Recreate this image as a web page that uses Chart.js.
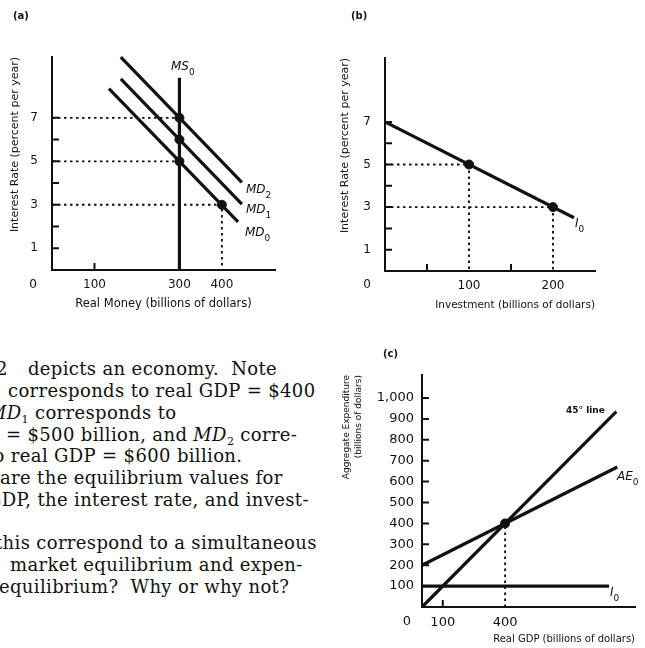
<!DOCTYPE html>
<html>
<head>
<meta charset="utf-8">
<script src="https://cdn.jsdelivr.net/npm/chart.js@4.4.0/dist/chart.umd.min.js"></script>
<style>
  body { margin: 0; width: 645px; height: 648px; position: relative; overflow: hidden; background: #fff; color: #111; font-family: "DejaVu Sans", sans-serif; }
  canvas { position: absolute; }
  .tag { position: absolute; font-size: 10px; font-weight: bold; }
  .lbl { position: absolute; font-style: italic; font-size: 12px; white-space: nowrap; line-height: 1; }
  .lbl sub { font-style: normal; font-size: 9px; vertical-align: -5px; }
  .txt { position: absolute; left: 0; top: 350px; width: 340px; height: 260px; overflow: hidden; font-family: "DejaVu Serif", serif; font-size: 18px; letter-spacing: 0.35px; }
  .txt div { position: absolute; white-space: nowrap; line-height: 1; }
  .txt sub { font-size: 11px; vertical-align: -4px; }
</style>
</head>
<body>
<canvas id="chartA" width="320" height="320" style="left:0;top:0"></canvas>
<canvas id="chartB" width="325" height="320" style="left:320px;top:0"></canvas>
<canvas id="chartC" width="305" height="328" style="left:340px;top:320px"></canvas>

<div class="tag" style="left:13px;top:10px">(a)</div>
<div class="tag" style="left:351px;top:10px">(b)</div>
<div class="tag" style="left:383px;top:348px">(c)</div>

<div class="lbl" style="left:171px;top:60px">MS<sub>0</sub></div>
<div class="lbl" style="left:246px;top:183px">MD<sub>2</sub></div>
<div class="lbl" style="left:246px;top:203px">MD<sub>1</sub></div>
<div class="lbl" style="left:245px;top:226px">MD<sub>0</sub></div>
<div class="lbl" style="left:575px;top:217px">I<sub>0</sub></div>
<div class="lbl" style="left:566px;top:406px;font-style:normal;font-size:9px;font-weight:bold">45° line</div>
<div class="lbl" style="left:617px;top:470px">AE<sub>0</sub></div>
<div class="lbl" style="left:610px;top:586px">I<sub>0</sub></div>

<div class="txt">
  <div style="left:-4px;top:10px">2</div>
  <div style="left:28px;top:10px">depicts an economy.&nbsp; Note</div>
  <div style="left:8px;top:32px">corresponds to real GDP = $400</div>
  <div style="left:-12px;top:54px"><i>MD</i><sub>1</sub> corresponds to</div>
  <div style="left:6px;top:76px">= $500 billion, and <i>MD</i><sub>2</sub> corre-</div>
  <div style="left:-14px;top:97px">to real GDP = $600 billion.</div>
  <div style="left:0px;top:119px">are the equilibrium values for</div>
  <div style="left:-13px;top:141px">GDP, the interest rate, and invest-</div>
  <div style="left:-5px;top:184px">this correspond to a simultaneous</div>
  <div style="left:10px;top:206px">market equilibrium and expen-</div>
  <div style="left:-1px;top:228px">equilibrium?&nbsp; Why or why not?</div>
</div>

<script>
// (a) thi truong tien te
const aXLabels = [100, 300, 400];
const aYLabels = [1, 3, 5, 7];
const aTickY = [1, 2, 3, 4, 5, 6, 7];
const aTickX = [100];
const msX = [300, 300];
const msY = [0, 8.85];
const md0X = [134, 438];
const md0Y = [8.35, 2.21];
const md1X = [162, 447];
const md1Y = [8.79, 3.03];
const md2X = [162, 447];
const md2Y = [9.79, 4.03];
const aEqX = [300, 300, 300, 400];
const aEqY = [7, 6, 5, 3];
const aGuides = [[[0, 7], [300, 7]], [[0, 5], [300, 5]], [[0, 3], [400, 3], [400, 0]]];

// (b) dau tu
const bXLabels = [100, 200];
const bYLabels = [1, 3, 5, 7];
const bTickY = [1, 2, 3, 4, 5, 6, 7];
const bTickX = [50, 150];
const invX = [0, 225];
const invY = [7, 2.5];
const bEqX = [100, 200];
const bEqY = [5, 3];
const bGuides = [[[0, 5], [100, 5], [100, 0]], [[0, 3], [200, 3], [200, 0]]];

// (c) tong chi tieu
const cXLabels = [100, 400];
const cYValues = [100, 200, 300, 400, 500, 600, 700, 800, 900, 1000];
const cYLabels = ['100', '200', '300', '400', '500', '600', '700', '800', '900', '1,000'];
const cTickX = [100];
const line45X = [0, 935];
const line45Y = [0, 935];
const aeX = [0, 940];
const aeY = [200, 670];
const invCX = [0, 900];
const invCY = [100, 100];
const cEqX = [400];
const cEqY = [400];
const cGuides = [[[400, 0], [400, 400]]];

const INK = '#111';
const pts = (xs, ys) => xs.map((x, i) => ({ x: x, y: ys[i] }));

function solid(xs, ys) {
    return { data: pts(xs, ys), showLine: true, borderColor: INK, borderWidth: 3.2, pointRadius: 0, clip: false };
}
function dots(xs, ys) {
    return { data: pts(xs, ys), showLine: false, backgroundColor: INK, borderColor: INK, pointRadius: 4.5 };
}
function dotted(seg) {
    return { data: seg.map(p => ({ x: p[0], y: p[1] })), showLine: true, borderColor: INK, borderWidth: 1.9, borderDash: [2.5, 3.5], pointRadius: 0 };
}

// ve vach chia huong vao trong + nhan "0" o goc
const innerTicks = {
    id: 'innerTicks',
    afterDatasetsDraw(chart, args, opts) {
        const { ctx, scales: { x, y } } = chart;
        ctx.save();
        ctx.strokeStyle = INK;
        ctx.lineWidth = 2;
        ctx.beginPath();
        (opts.y || []).forEach(v => {
            const py = y.getPixelForValue(v);
            ctx.moveTo(x.left, py);
            ctx.lineTo(x.left + opts.len, py);
        });
        (opts.x || []).forEach(v => {
            const px = x.getPixelForValue(v);
            ctx.moveTo(px, y.bottom);
            ctx.lineTo(px, y.bottom - opts.len);
        });
        ctx.stroke();
        ctx.fillStyle = INK;
        ctx.font = opts.font;
        ctx.textAlign = 'center';
        ctx.textBaseline = 'middle';
        ctx.fillText('0', x.getPixelForValue(0) - opts.zeroDx, y.bottom + opts.zeroDy);
        ctx.restore();
    }
};

function makeChart(id, cfg) {
    const tickFont = { family: 'DejaVu Sans', size: cfg.tickSize };
    return new Chart(document.getElementById(id), {
        type: 'scatter',
        data: { datasets: cfg.datasets },
        options: {
            responsive: false,
            animation: false,
            layout: { padding: { left: 0, top: cfg.top, right: cfg.right, bottom: 0 } },
            plugins: {
                legend: { display: false },
                tooltip: { enabled: false },
                innerTicks: { x: cfg.tickX, y: cfg.tickY, len: 7, font: cfg.tickSize + 'px "DejaVu Sans"', zeroDx: cfg.zeroDx, zeroDy: cfg.zeroDy }
            },
            scales: {
                x: {
                    type: 'linear', min: 0, max: cfg.xMax,
                    grid: { display: false, drawTicks: false },
                    border: { display: true, color: INK, width: 2 },
                    afterBuildTicks: s => { s.ticks = cfg.xLabels.map(v => ({ value: v })); },
                    afterFit: s => { s.height = cfg.xH; },
                    ticks: { color: INK, font: tickFont, padding: cfg.xPad, maxRotation: 0, autoSkip: false, callback: v => String(v) },
                    title: { display: true, text: cfg.xTitle, color: INK, align: cfg.xAlign, font: { family: 'DejaVu Sans', size: cfg.xTitleSize }, padding: { top: 0, bottom: cfg.xTitlePad } }
                },
                y: {
                    type: 'linear', min: 0, max: cfg.yMax,
                    grid: { display: false, drawTicks: false },
                    border: { display: true, color: INK, width: 2 },
                    afterBuildTicks: s => { s.ticks = cfg.yValues.map(v => ({ value: v })); },
                    afterFit: s => { s.width = cfg.yW; },
                    ticks: { color: INK, font: tickFont, padding: cfg.yPad, autoSkip: false, callback: (v, i) => cfg.yLabels[i] },
                    title: { display: true, text: cfg.yTitle, color: INK, align: 'end', font: { family: 'DejaVu Sans', size: cfg.yTitleSize, lineHeight: 1.4 }, padding: { top: cfg.yTitlePad, bottom: 0 } }
                }
            }
        },
        plugins: [innerTicks]
    });
}

makeChart('chartA', {
    datasets: [dots(aEqX, aEqY), solid(msX, msY), solid(md0X, md0Y), solid(md1X, md1Y), solid(md2X, md2Y)].concat(aGuides.map(dotted)),
    top: 57, right: 45, xMax: 525, yMax: 9.8, xH: 50, yW: 52,
    xLabels: aXLabels, yValues: aYLabels, yLabels: aYLabels.map(String),
    tickX: aTickX, tickY: aTickY, tickSize: 12, xPad: 8, yPad: 14,
    zeroDx: 19, zeroDy: 15,
    xTitle: 'Real Money (billions of dollars)', xTitleSize: 11.5, xTitlePad: 9, xAlign: 'center',
    yTitle: 'Interest Rate (percent per year)', yTitleSize: 11, yTitlePad: 7
});

makeChart('chartB', {
    datasets: [dots(bEqX, bEqY), solid(invX, invY)].concat(bGuides.map(dotted)),
    top: 58, right: 50, xMax: 250, yMax: 10, xH: 49, yW: 65,
    xLabels: bXLabels, yValues: bYLabels, yLabels: bYLabels.map(String),
    tickX: bTickX, tickY: bTickY, tickSize: 12, xPad: 8, yPad: 14,
    zeroDx: 18, zeroDy: 14,
    xTitle: 'Investment (billions of dollars)', xTitleSize: 10.5, xTitlePad: 8, xAlign: 'end',
    yTitle: 'Interest Rate (percent per year)', yTitleSize: 11, yTitlePad: 17
});

makeChart('chartC', {
    datasets: [dots(cEqX, cEqY), solid(line45X, line45Y), solid(aeX, aeY), solid(invCX, invCY)].concat(cGuides.map(dotted)),
    top: 55, right: 10, xMax: 1025, yMax: 1110, xH: 41, yW: 82,
    xLabels: cXLabels, yValues: cYValues, yLabels: cYLabels,
    tickX: cTickX, tickY: cYValues, tickSize: 13, xPad: 8, yPad: 8,
    zeroDx: 15, zeroDy: 15,
    xTitle: 'Real GDP (billions of dollars)', xTitleSize: 10, xTitlePad: 3, xAlign: 'end',
    yTitle: ['Aggregate Expenditure', '(billions of dollars)'], yTitleSize: 9, yTitlePad: 0
});
</script>
</body>
</html>
